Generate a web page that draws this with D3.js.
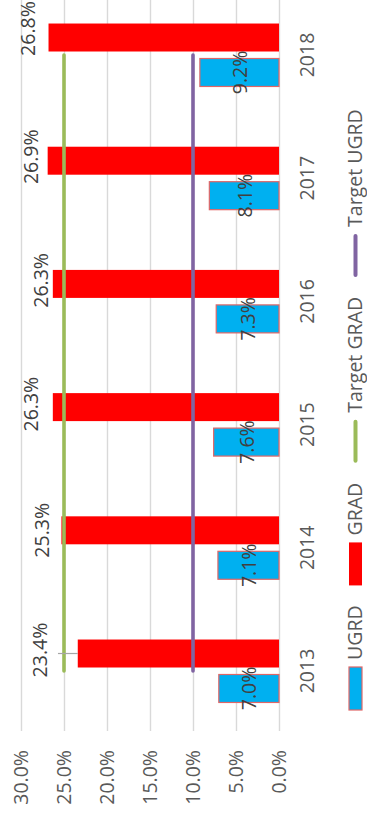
<!DOCTYPE html>
<html>
<head>
<meta charset="utf-8">
<script src="https://cdn.jsdelivr.net/npm/d3@7"></script>
<style>
  html, body { margin: 0; padding: 0; background: #ffffff; }
  svg { display: block; }
  text { font-family: "Open Sans", "Liberation Sans", Arial, sans-serif; }
</style>
</head>
<body>
<div id="chart"></div>
<script>
// ---- data ----
const years = ["2013", "2014", "2015", "2016", "2017", "2018"];
const ugrd = [7.0, 7.1, 7.6, 7.3, 8.1, 9.2];
const grad = [23.4, 25.3, 26.3, 26.3, 26.9, 26.8];
const targetGrad = [25, 25, 25, 25, 25, 25];
const targetUgrd = [10, 10, 10, 10, 10, 10];
const valueTicks = [0, 5, 10, 15, 20, 25, 30];
const seriesNames = ["UGRD", "GRAD", "Target GRAD", "Target UGRD"];

// hand-placed GRAD label nudges (px): distance back from bar end, shift along the axis
const gradLabelGap = [37.8, 20, 22.8, 12.8, 16.7, 21];
const gradLabelShift = [3.5, 0, 3, 3.5, 4, 9];

// ---- layout ----
const pageW = 367, pageH = 822;
const colors = {
  ugrd: "#00b0f0", grad: "#ff0000", tGrad: "#9bbb59", tUgrd: "#8064a2",
  grid: "#d9d9d9", text: "#595959", label: "#404040", edge: "#e06666"
};
const fontSize = 19.5;
const fontFamily = "Open Sans, Liberation Sans, Arial, sans-serif";

const svg = d3.select("#chart").append("svg")
  .attr("width", pageW).attr("height", pageH);

// the chart is laid out unrotated, then turned a quarter turn
const g = svg.append("g")
  .attr("transform", `translate(0,${pageH}) rotate(-90)`);

const x = d3.scaleBand().domain(years)
  .range([89.4, 828.6]).paddingInner(0.489).paddingOuter(0.2445);
const xs = d3.scaleBand().domain(["UGRD", "GRAD"])
  .range([0, x.bandwidth()]).paddingInner(0.2);
const y = d3.scaleLinear().domain([0, 30]).range([279, 21]);

// value axis with gridlines
const yAxis = g.append("g")
  .attr("transform", "translate(91,0)")
  .call(d3.axisLeft(y).tickValues(valueTicks)
    .tickSize(-(840 - 91)).tickPadding(19)
    .tickFormat(d => d.toFixed(1) + "%"));
yAxis.select(".domain").remove();
yAxis.selectAll(".tick line").attr("stroke", colors.grid).attr("stroke-width", 1.4);
yAxis.selectAll(".tick text")
  .attr("fill", colors.text).attr("font-size", fontSize)
  .attr("font-family", fontFamily);

// category axis
const xAxis = g.append("g")
  .attr("transform", `translate(0,${y(0)})`)
  .call(d3.axisBottom(x).tickSize(0).tickPadding(21));
xAxis.select(".domain").remove();
xAxis.selectAll(".tick text")
  .attr("fill", colors.text).attr("font-size", fontSize)
  .attr("font-family", fontFamily);

// bars
const rows = years.map((yr, i) => ({ yr, i, ugrd: ugrd[i], grad: grad[i] }));

g.append("g").selectAll("rect").data(rows).join("rect")
  .attr("x", d => x(d.yr) + xs("UGRD"))
  .attr("width", xs.bandwidth())
  .attr("y", d => y(d.ugrd))
  .attr("height", d => y(0) - y(d.ugrd))
  .attr("fill", colors.ugrd)
  .attr("stroke", colors.edge).attr("stroke-width", 1.2);

g.append("g").selectAll("rect").data(rows).join("rect")
  .attr("x", d => x(d.yr) + xs("GRAD"))
  .attr("width", xs.bandwidth())
  .attr("y", d => y(d.grad))
  .attr("height", d => y(0) - y(d.grad))
  .attr("fill", colors.grad);

// target lines
const cx = yr => x(yr) + x.bandwidth() / 2;
const line = arr => d3.line().x((d, i) => cx(years[i])).y(d => y(d))(arr);

g.append("path").attr("d", line(targetGrad))
  .attr("fill", "none").attr("stroke", colors.tGrad)
  .attr("stroke-width", 3.6).attr("stroke-linecap", "round");
g.append("path").attr("d", line(targetUgrd))
  .attr("fill", "none").attr("stroke", colors.tUgrd)
  .attr("stroke-width", 3.6).attr("stroke-linecap", "round");

// UGRD labels, centred in the bars
g.append("g").selectAll("text").data(rows).join("text")
  .attr("x", d => x(d.yr) + xs("UGRD") + xs.bandwidth() / 2)
  .attr("y", d => (y(d.ugrd) + y(0)) / 2)
  .attr("text-anchor", "middle").attr("dominant-baseline", "central")
  .attr("font-size", fontSize).attr("fill", colors.label)
  .text(d => d.ugrd.toFixed(1) + "%");

// GRAD labels, beyond the bar ends
const gradLabels = g.append("g");
rows.forEach(d => {
  const bc = x(d.yr) + xs("GRAD") + xs.bandwidth() / 2;
  const end = y(d.grad);
  const ly = end - gradLabelGap[d.i];
  if (gradLabelGap[d.i] > 30) {
    gradLabels.append("line")
      .attr("x1", bc).attr("x2", bc)
      .attr("y1", end).attr("y2", ly + 18)
      .attr("stroke", "#a6a6a6").attr("stroke-width", 1.2);
  }
  gradLabels.append("text")
    .attr("x", bc + gradLabelShift[d.i]).attr("y", ly)
    .attr("text-anchor", "middle").attr("dominant-baseline", "central")
    .attr("font-size", fontSize).attr("fill", colors.label)
    .text(d.grad.toFixed(1) + "%");
});

// legend
const legend = g.append("g");
const swatchLen = 43, swatchTop = 349, swatchH = 13, textBase = 361.5;
let pos = 112;
seriesNames.forEach((name, k) => {
  if (k < 2) {
    legend.append("rect")
      .attr("x", pos).attr("y", swatchTop)
      .attr("width", swatchLen).attr("height", swatchH)
      .attr("fill", k === 0 ? colors.ugrd : colors.grad)
      .attr("stroke", k === 0 ? colors.edge : "none").attr("stroke-width", 1.2);
  } else {
    legend.append("line")
      .attr("x1", pos + 2).attr("x2", pos + swatchLen - 2)
      .attr("y1", swatchTop + swatchH / 2).attr("y2", swatchTop + swatchH / 2)
      .attr("stroke", k === 2 ? colors.tGrad : colors.tUgrd)
      .attr("stroke-width", 4).attr("stroke-linecap", "round");
  }
  const t = legend.append("text")
    .attr("x", pos + swatchLen + 7).attr("y", textBase)
    .attr("font-size", fontSize).attr("fill", colors.text)
    .text(name);
  pos += swatchLen + 7 + t.node().getComputedTextLength() + 20;
});
</script>
</body>
</html>
